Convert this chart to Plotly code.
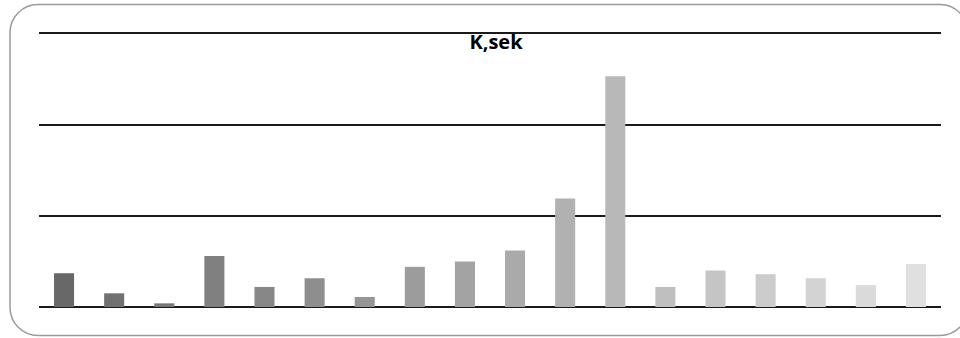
import plotly.graph_objects as go

# Bar chart data: 18 measurements of K (seconds)
categories = [str(i) for i in range(1, 19)]
k_sek = [0.37, 0.15, 0.04, 0.56, 0.22, 0.315, 0.11, 0.44, 0.50, 0.62,
         1.19, 2.53, 0.22, 0.40, 0.36, 0.315, 0.24, 0.47]
bar_colors = ["#686868", "#717171", "#777777", "#808080", "#878787", "#8e8e8e",
              "#959595", "#9c9c9c", "#a3a3a3", "#aaaaaa", "#b1b1b1", "#b8b8b8",
              "#bfbfbf", "#c5c5c5", "#cccccc", "#d3d3d3", "#dadada", "#e0e0e0"]
grid_vals = [0, 1, 2, 3]

W, H = 960, 338
ML, MR, MT, MB = 39, 19, 29, 31
unit_px = 91.23  # pixels per grid step
pw, ph = W - ML - MR, H - MT - MB
y_top = ph / unit_px

fig = go.Figure(go.Bar(
    x=categories, y=k_sek,
    marker=dict(color=bar_colors, line=dict(width=0)),
    hoverinfo="x+y",
))

# Rounded frame around the chart, computed in pixels then mapped to paper units
def px(x):
    return (x - ML) / pw
def py(y):
    return (H - MB - y) / ph

x0, x1, y0, y1, r = 10, 968, 4.5, 335.5, 28
k = 0.45
path = (
    f"M {px(x0 + r)},{py(y0)} L {px(x1 - r)},{py(y0)} "
    f"C {px(x1 - r * k)},{py(y0)} {px(x1)},{py(y0 + r * k)} {px(x1)},{py(y0 + r)} "
    f"L {px(x1)},{py(y1 - r)} "
    f"C {px(x1)},{py(y1 - r * k)} {px(x1 - r * k)},{py(y1)} {px(x1 - r)},{py(y1)} "
    f"L {px(x0 + r)},{py(y1)} "
    f"C {px(x0 + r * k)},{py(y1)} {px(x0)},{py(y1 - r * k)} {px(x0)},{py(y1 - r)} "
    f"L {px(x0)},{py(y0 + r)} "
    f"C {px(x0)},{py(y0 + r * k)} {px(x0 + r * k)},{py(y0)} {px(x0 + r)},{py(y0)} Z"
)

fig.update_layout(
    width=W, height=H,
    margin=dict(l=ML, r=MR, t=MT, b=MB),
    paper_bgcolor="white", plot_bgcolor="white",
    bargap=0.6,
    showlegend=False,
    title=dict(
        text="<b>K,sek</b>",
        x=px(496), xanchor="center", xref="paper",
        y=1 - 42 / H, yanchor="middle",
        font=dict(family="Open Sans", size=20, color="#000000"),
    ),
    xaxis=dict(showticklabels=False, ticks="", showgrid=False, zeroline=False,
               showline=False),
    yaxis=dict(range=[0, y_top], tickvals=grid_vals, showticklabels=False, ticks="",
               showgrid=True, gridcolor="#1a1a1a", gridwidth=1.6,
               zeroline=True, zerolinecolor="#1a1a1a", zerolinewidth=1.6,
               showline=False),
    shapes=[dict(type="path", xref="paper", yref="paper", path=path,
                 line=dict(color="#9a9a9a", width=1.5), layer="above")],
)

fig.write_html("out.html")
